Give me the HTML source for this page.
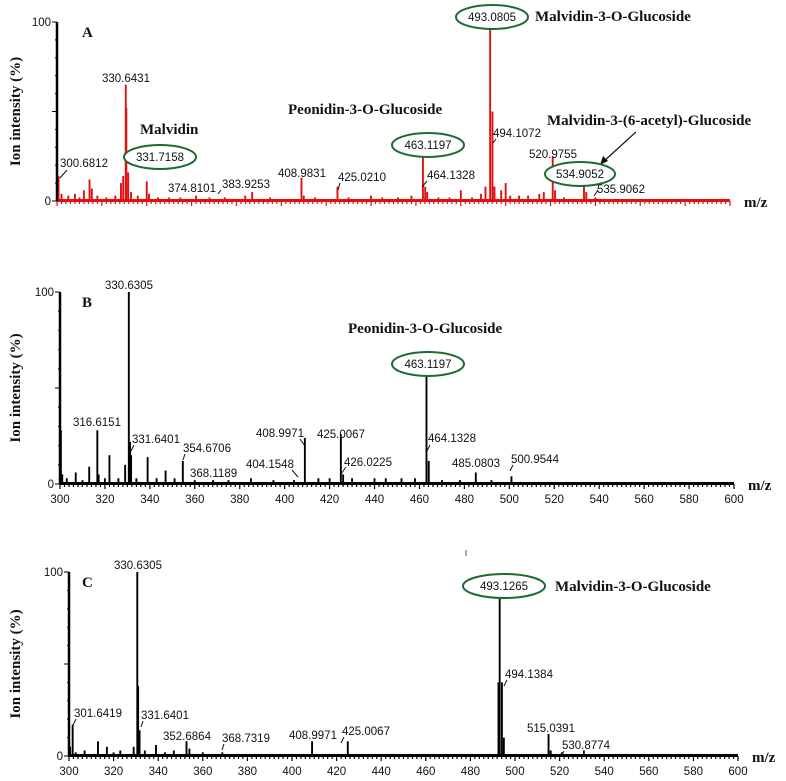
<!DOCTYPE html>
<html><head><meta charset="utf-8">
<style>
html,body{margin:0;padding:0;background:#fff;}
svg{display:block;}
.num{font-family:"Liberation Sans",sans-serif;font-size:11.5px;fill:#111;}
.ser{font-family:"Liberation Serif",serif;font-weight:bold;fill:#111;}
</style></head>
<body>
<svg id="chart" width="786" height="781" viewBox="0 0 786 781" xmlns="http://www.w3.org/2000/svg"></svg>
<script>
// Panel A (red)
const mzA = [300.68,302,305,308,310,312,314.5,315.5,318,322,326,328.5,329.5,330.64,330.9,331.72,333,336,340,341,345,350,355,362,368,374.81,383.93,387,395,403,408.98,410,415,425.02,430,440,445,452,458,463.12,464.13,465,470,475,480,485,489,491,493.08,494.11,495,498,500,502,506,510,515,517,520.98,522,526,534.91,535.91,540,548,556,565,575,585,595];
const intA = [14,4,3,4,2,6,12,7,3,2,3,10,14,65,52,16,5,3,11,4,2,2,2,3,2,2,3,5,2,1,13,3,2,8,2,3,2,2,3,27,8,5,2,2,6,2,4,8,100,50,8,6,10,3,3,3,4,5,25,6,2,16,5,2,1,1,1,1,1,1];
// Panel B (black)
const mzB = [300.4,301,303,307,310,313,316.62,317.2,320,322,326,329,330.63,331.2,331.64,334,339,343,347,351,354.67,360,368.12,375,385,395,404.15,408.99,415,420,425.01,426.02,430,440,445,452,458,463.12,464.13,470,478,485.08,492,500.95,510,530,560,590];
const intB = [28,5,3,6,2,9,28,5,3,15,3,10,100,22,15,3,14,3,7,3,12,2,2,2,3,2,2,24,3,3,26,5,3,3,3,3,3,57,12,2,2,6,2,4,1,1,1,1];
// Panel C (black)
const mzC = [300.5,301.64,303,307,313,317,320,323,329,330.63,331,331.64,334,339,343,347,352.69,354,360,368.73,375,388,400,409,412,425.01,440,460,476,492.6,493.13,494.14,495,500,515.04,516,521,530.88,550,580];
const intC = [5,17,2,3,8,5,2,3,5,100,38,14,3,6,2,3,8,4,2,2,1,1,1,8,1,8,1,1,1,40,89,40,10,1,12,3,2,3,1,1];
// x tick labels (B and C)
const xTicks = [300,320,340,360,380,400,420,440,460,480,500,520,540,560,580,600];

const svg = document.getElementById('chart');
const NS = 'http://www.w3.org/2000/svg';
function mk(tag, attrs, parent){
  const e = document.createElementNS(NS, tag);
  for (const k in attrs) e.setAttribute(k, attrs[k]);
  (parent||svg).appendChild(e);
  return e;
}
function drawPanel(p){
  const g = mk('g', {});
  
  
  const X = mz => p.x0 + (mz - 300) / 300 * (p.x1 - p.x0);
  const Y = v => p.y0 - v / 100 * (p.y0 - p.y100);
  for (let i = 0; i < p.mz.length; i++){
    const l = mk('line', {x1:X(p.mz[i]), x2:X(p.mz[i]), y1:p.y0, y2:Y(p.int[i]), stroke:p.color, 'stroke-width':1.9}, g);
    
    
  }
  const xa = mk('line', {x1:p.x0, x2:p.x1, y1:p.y0 - 0.5, y2:p.y0 - 0.5, stroke:p.color, 'stroke-width':3}, g);
  
  
  for (let m = 300; m <= 600; m += 2){
    const major = m % 20 === 0;
    mk('line', {x1:X(m), x2:X(m), y1:p.y0, y2:p.y0 + (major?5:3), stroke:p.color, 'stroke-width':1.2}, g);
  }
  if (p.labels){
    for (const t of xTicks){
      const tx = mk('text', {x:X(t), y:p.y0 + 19, 'text-anchor':'middle', class:'num', 'font-size':13}, g);
      
      
      tx.textContent = t;
    }
  }
  const ya = mk('line', {x1:p.x0, x2:p.x0, y1:p.y0, y2:p.y100, stroke:'#000', 'stroke-width':2.5}, g);
  
  
  for (let v = 0; v <= 100; v += 10){
    mk('line', {x1:p.x0 - (v % 50 === 0 ? 5 : 2), x2:p.x0, y1:Y(v), y2:Y(v), stroke:'#000', 'stroke-width':1}, g);
  }
  for (const v of [0,100]){
    const t = mk('text', {x:p.x0 - 6, y:Y(v) + 4, 'text-anchor':'end', class:'num', 'font-size':12}, g);
    
    
    t.textContent = v;
  }
  const yt = mk('text', {x:0, y:0, class:'ser', 'font-size':15, 'text-anchor':'middle', transform:'translate(20,' + ((p.y0 + p.y100) / 2) + ') rotate(-90)'}, g);
  
  
  yt.textContent = 'Ion intensity (%)';
  const mzt = mk('text', {x:p.x1 + 14, y:p.y0 + 6, class:'ser', 'font-size':15}, g);
  
  
  mzt.textContent = 'm/z';
  const pl = mk('text', {x:82, y:p.y100 + 15, class:'ser', 'font-size':15}, g);
  
  
  pl.textContent = p.id;
  return {g, X, Y};
}
function lab(g, txt, x, y, lx1, ly1, lx2, ly2){
  const t = mk('text', {x:x, y:y, class:'num'}, g);
  
  
  t.textContent = txt;
  if (lx1 !== undefined) mk('line', {x1:lx1, y1:ly1, x2:lx2, y2:ly2, stroke:'#111', 'stroke-width':1}, g);
}
function ell(g, txt, cx, cy, rx){
  const e = mk('ellipse', {cx:cx, cy:cy, rx:rx, ry:12, fill:'#fff', stroke:'#1d6b30', 'stroke-width':2}, g);
  
  
  const t = mk('text', {x:cx, y:cy + 4, 'text-anchor':'middle', class:'num'}, g);
  
  
  t.textContent = txt;
}
function comp(g, txt, x, y){
  const t = mk('text', {x:x, y:y, class:'ser', 'font-size':15}, g);
  
  
  t.textContent = txt;
}

const A = drawPanel({id:'A', mz:mzA, int:intA, color:'#e01010', x0:57, x1:730, y0:201, y100:22, labels:false});
lab(A.g,'330.6431',102,82);
lab(A.g,'300.6812',60,167,67,170,60,178);
comp(A.g,'Malvidin',140,134);
ell(A.g,'331.7158',160,157,36);
lab(A.g,'374.8101',168,192);
lab(A.g,'383.9253',222,188,221,190,218,194);
lab(A.g,'408.9831',278,177);
lab(A.g,'425.0210',338,181,340,183,338,190);
comp(A.g,'Peonidin-3-O-Glucoside',288,114);
ell(A.g,'463.1197',428,145,36);
lab(A.g,'464.1328',427,179,427,181,422,187);
ell(A.g,'493.0805',492,17,36);
comp(A.g,'Malvidin-3-O-Glucoside',535,21);
lab(A.g,'494.1072',493,137,496,139,493,143);
lab(A.g,'520.9755',529,158);
comp(A.g,'Malvidin-3-(6-acetyl)-Glucoside',547,125);
mk('line',{x1:636,y1:132,x2:603,y2:162,stroke:'#111','stroke-width':1.2},A.g);
mk('path',{d:'M600,165 L603,156 L608,161 Z',fill:'#111'},A.g);
ell(A.g,'534.9052',580,174,35);
lab(A.g,'535.9062',597,193,598,190,594,196);

const B = drawPanel({id:'B', mz:mzB, int:intB, color:'#000', x0:60, x1:734, y0:484, y100:292, labels:true});
lab(B.g,'330.6305',105,289);
lab(B.g,'316.6151',73,426);
lab(B.g,'331.6401',132,443,134,445,131,451);
lab(B.g,'354.6706',183,452,185,454,183,460);
lab(B.g,'368.1189',190,477);
lab(B.g,'404.1548',246,468,292,470,298,477);
lab(B.g,'408.9971',256,437,300,439,305,446);
lab(B.g,'425.0067',317,438);
lab(B.g,'426.0225',344,466,346,467,341,474);
comp(B.g,'Peonidin-3-O-Glucoside',348,333);
ell(B.g,'463.1197',428,364,36);
lab(B.g,'464.1328',428,442,430,445,427,451);
lab(B.g,'485.0803',452,467);
lab(B.g,'500.9544',511,463,513,465,510,471);

const C = drawPanel({id:'C', mz:mzC, int:intC, color:'#000', x0:69, x1:738, y0:756, y100:572, labels:true});
lab(C.g,'330.6305',114,569);
lab(C.g,'301.6419',74,717,76,719,73,725);
lab(C.g,'331.6401',141,719,143,721,141,727);
lab(C.g,'352.6864',163,740);
lab(C.g,'368.7319',222,742,224,744,222,750);
lab(C.g,'408.9971',289,739);
lab(C.g,'425.0067',342,735,344,737,341,743);
ell(C.g,'493.1265',504,586,41);
comp(C.g,'Malvidin-3-O-Glucoside',555,591);
lab(C.g,'494.1384',505,678,507,680,504,686);
lab(C.g,'515.0391',527,732);
lab(C.g,'530.8774',562,749,564,751,562,755);
mk('line',{x1:466,y1:550,x2:466,y2:556,stroke:'#555','stroke-width':1});
</script>
</body></html>
